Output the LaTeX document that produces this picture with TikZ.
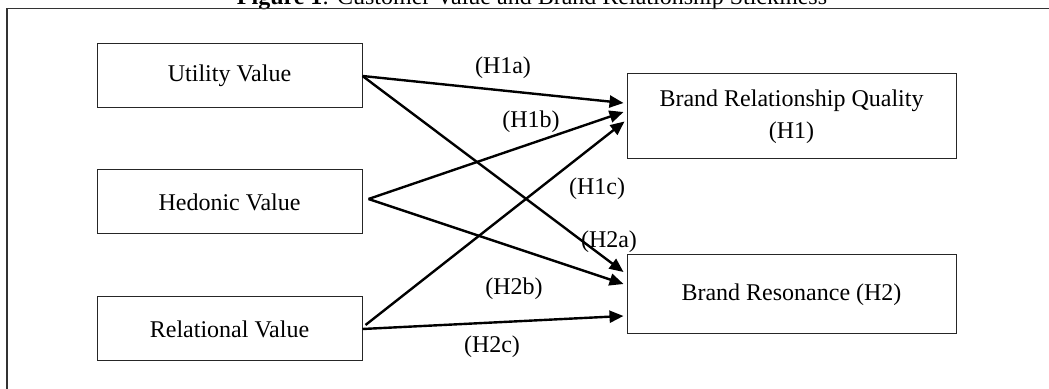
\documentclass[tikz,border=0pt]{standalone}
\usepackage{fontspec}
\setmainfont{Liberation Serif}
\usetikzlibrary{calc,arrows.meta}
\tikzset {>={Triangle[length=7pt,width=6pt]}}
\tikzset{
  varbox/.style={draw=black!85,line width=0.5pt,inner sep=0pt,
    minimum width=132.5pt,minimum height=32pt,align=center,
    font=\fontsize{12}{16}\selectfont},
  outbox/.style={varbox,minimum width=164.5pt},
  hyp/.style={font=\fontsize{12}{14}\selectfont,inner sep=0pt},
  path/.style={->,line width=1.2pt}
}

\begin{document}
\begin{tikzpicture}[x=0.5pt,y=-0.5pt]
\useasboundingbox (0,0) rectangle (1049,389);
\clip (0,0) rectangle (1049,389);

% title (cut at the top) and frame
\node[hyp,anchor=base] (title) at (532,5)
  {\textbf{Figure 1}: Customer Value and Brand Relationship Stickiness};
\draw[line width=0.9pt,black!80] (7,400) -- (7,8.5) -- (1060,8.5);

\node[varbox] (util) at (229.5,76)  {Utility Value};
\node[varbox] (hed)  at (229.5,202) {Hedonic Value};
\node[varbox] (rel)  at (229.5,329) {Relational Value};

\node[outbox,minimum height=42.5pt] (brq) at (791.5,116.5)
  {Brand Relationship Quality\\(H1)};
\node[outbox,minimum height=39.5pt] (br) at (791.5,294.5)
  {Brand Resonance (H2)};

\coordinate (hedout) at ($(hed.east)+(6,-3)$);
\coordinate (relout) at ($(rel.east)+(3,-4)$);

\draw[path] (util.east) -- ($(brq.west)+(-3,-13.5)$);
\draw[path] (hedout)    -- ($(brq.west)+(-3,-4.5)$);
\draw[path] (relout)    -- ($(brq.west)+(-2,5)$);
\draw[path] (util.east) -- ($(br.west)+(-3,-22.5)$);
\draw[path] (hedout)    -- ($(br.west)+(-3,-10.5)$);
\draw[path] (rel.east)  -- ($(br.west)+(-3,21.5)$);

\node[hyp] (lH1a) at (503,68)  {(H1a)};
\node[hyp] (lH1b) at (531,122) {(H1b)};
\node[hyp] (lH1c) at (597,189) {(H1c)};
\node[hyp] (lH2a) at (609,242) {(H2a)};
\node[hyp] (lH2b) at (514,289) {(H2b)};
\node[hyp] (lH2c) at (492,347) {(H2c)};

\end{tikzpicture}
\end{document}
